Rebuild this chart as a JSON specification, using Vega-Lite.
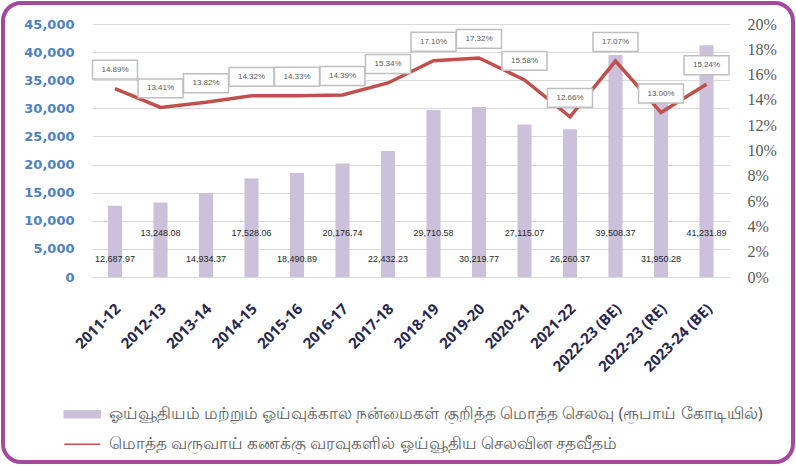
{
  "$schema": "https://vega.github.io/schema/vega-lite/v6.json",
  "width": 790,
  "height": 459,
  "padding": 3,
  "autosize": {"type": "none"},
  "background": "white",
  "config": {
    "view": {"stroke": "#a5499e", "strokeWidth": 4, "cornerRadius": 18, "fill": "white"},
    "axis": {"gridColor": "#d9d9d9", "gridWidth": 1, "domain": false, "ticks": false, "tickSize": 0}
  },
  "data": {
    "values": [
      {"year": "2011-12", "amount": 12687.97, "pct": 0.1489},
      {"year": "2012-13", "amount": 13248.08, "pct": 0.1341},
      {"year": "2013-14", "amount": 14934.37, "pct": 0.1382},
      {"year": "2014-15", "amount": 17528.06, "pct": 0.1432},
      {"year": "2015-16", "amount": 18490.89, "pct": 0.1433},
      {"year": "2016-17", "amount": 20176.74, "pct": 0.1439},
      {"year": "2017-18", "amount": 22432.23, "pct": 0.1534},
      {"year": "2018-19", "amount": 29710.58, "pct": 0.1710},
      {"year": "2019-20", "amount": 30219.77, "pct": 0.1732},
      {"year": "2020-21", "amount": 27115.07, "pct": 0.1558},
      {"year": "2021-22", "amount": 26260.37, "pct": 0.1266},
      {"year": "2022-23 (BE)", "amount": 39508.37, "pct": 0.1707},
      {"year": "2022-23 (RE)", "amount": 31950.28, "pct": 0.1300},
      {"year": "2023-24 (BE)", "amount": 41231.89, "pct": 0.1524}
    ]
  },
  "encoding": {
    "x": {
      "field": "year",
      "type": "nominal",
      "sort": null,
      "title": null,
      "scale": {"range": [89.25, 726.25], "paddingInner": 0.69, "paddingOuter": 0.345},
      "axis": {
        "orient": "bottom",
        "offset": -185,
        "labelAngle": -45,
        "labelAlign": "right",
        "labelBaseline": "top",
        "labelPadding": 24,
        "labelOffset": -2,
        "labelFont": "Open Sans",
        "labelFontWeight": "bold",
        "labelFontSize": 15,
        "labelColor": "#29284c",
        "grid": false
      }
    }
  },
  "layer": [
    {
      "mark": {"type": "bar"},
      "encoding": {
        "y": {
          "field": "amount",
          "type": "quantitative",
          "title": null,
          "scale": {"domain": [0, 45000], "range": [274, 21], "nice": false},
          "axis": {
            "orient": "left",
            "offset": -71,
            "labelPadding": 0,
            "values": [0, 5000, 10000, 15000, 20000, 25000, 30000, 35000, 40000, 45000],
            "format": ",.0f",
            "labelFont": "DejaVu Sans",
            "labelFontWeight": "bold",
            "labelFontSize": 13,
            "labelColor": "#4f81bd",
            "grid": true
          }
        },
        "color": {
          "datum": "ஓய்வூதியம் மற்றும் ஓய்வுக்கால நன்மைகள் குறித்த மொத்த செலவு (ரூபாய் கோடியில்)",
          "type": "nominal",
          "scale": {
            "domain": [
              "ஓய்வூதியம் மற்றும் ஓய்வுக்கால நன்மைகள் குறித்த மொத்த செலவு (ரூபாய் கோடியில்)",
              "மொத்த வருவாய் கணக்கு வரவுகளில் ஓய்வூதிய செலவின சதவீதம்"
            ],
            "range": ["#ccc1da", "#c0504d"]
          },
          "legend": {
            "orient": "none",
            "legendX": 58,
            "legendY": 403,
            "direction": "vertical",
            "title": null,
            "padding": 0,
            "symbolSize": 100,
            "rowPadding": 13,
            "labelOffset": 31,
            "labelFont": "Noto Sans",
            "labelFontSize": 16.5,
            "labelColor": "#606060",
            "labelLimit": 720,
            "encode": {
              "symbols": {
                "update": {
                  "shape": {"signal": "datum.index === 0 ? 'M-1,-0.7H6.2V0.7H-1Z' : 'M-1,0H6.2'"},
                  "fill": {"signal": "datum.index === 0 ? '#ccc1da' : 'transparent'"},
                  "stroke": {"signal": "datum.index === 0 ? 'transparent' : '#c0504d'"},
                  "strokeWidth": {"value": 1.5},
                  "opacity": {"value": 1}
                }
              }
            }
          }
        }
      }
    },
    {
      "transform": [{"filter": {"field": "year", "oneOf": ["2011-12", "2013-14", "2015-16", "2017-18", "2019-20", "2021-22", "2022-23 (RE)"]}}],
      "mark": {"type": "text", "font": "Liberation Sans", "fontSize": 9, "color": "#262626", "baseline": "middle", "align": "center"},
      "encoding": {
        "y": {"datum": 3200, "type": "quantitative", "scale": {"domain": [0, 45000], "range": [274, 21], "nice": false}, "axis": null},
        "text": {"field": "amount", "type": "quantitative", "format": ",.2f"}
      }
    },
    {
      "transform": [{"filter": {"field": "year", "oneOf": ["2012-13", "2014-15", "2016-17", "2018-19", "2020-21", "2022-23 (BE)", "2023-24 (BE)"]}}],
      "mark": {"type": "text", "font": "Liberation Sans", "fontSize": 9, "color": "#262626", "baseline": "middle", "align": "center"},
      "encoding": {
        "y": {"datum": 7830, "type": "quantitative", "scale": {"domain": [0, 45000], "range": [274, 21], "nice": false}, "axis": null},
        "text": {"field": "amount", "type": "quantitative", "format": ",.2f"}
      }
    },
    {
      "mark": {"type": "line", "strokeWidth": 3.5},
      "encoding": {
        "y": {
          "field": "pct",
          "type": "quantitative",
          "title": null,
          "scale": {"domain": [0, 0.2], "range": [274, 21], "nice": false},
          "axis": {
            "orient": "right",
            "offset": -46,
            "labelPadding": 0,
            "values": [0, 0.02, 0.04, 0.06, 0.08, 0.1, 0.12, 0.14, 0.16, 0.18, 0.2],
            "format": ".0%",
            "labelFont": "Liberation Serif",
            "labelFontSize": 16,
            "labelColor": "#595959",
            "grid": false
          }
        },
        "color": {"datum": "மொத்த வருவாய் கணக்கு வரவுகளில் ஓய்வூதிய செலவின சதவீதம்", "type": "nominal"}
      }
    },
    {
      "mark": {"type": "point", "shape": "M-1,-0.42H1V0.42H-1Z", "size": 2025, "filled": true, "fill": "white", "stroke": "#bfbfbf", "strokeWidth": 1.5, "opacity": 1, "yOffset": -19},
      "encoding": {
        "y": {"field": "pct", "type": "quantitative", "scale": {"domain": [0, 0.2], "range": [274, 21], "nice": false}, "axis": null}
      }
    },
    {
      "mark": {"type": "text", "font": "Liberation Sans", "fontSize": 8, "color": "#595959", "baseline": "middle", "align": "center", "yOffset": -19},
      "encoding": {
        "y": {"field": "pct", "type": "quantitative", "scale": {"domain": [0, 0.2], "range": [274, 21], "nice": false}, "axis": null},
        "text": {"field": "pct", "type": "quantitative", "format": ".2%"}
      }
    }
  ],
  "resolve": {"scale": {"y": "independent"}}
}
